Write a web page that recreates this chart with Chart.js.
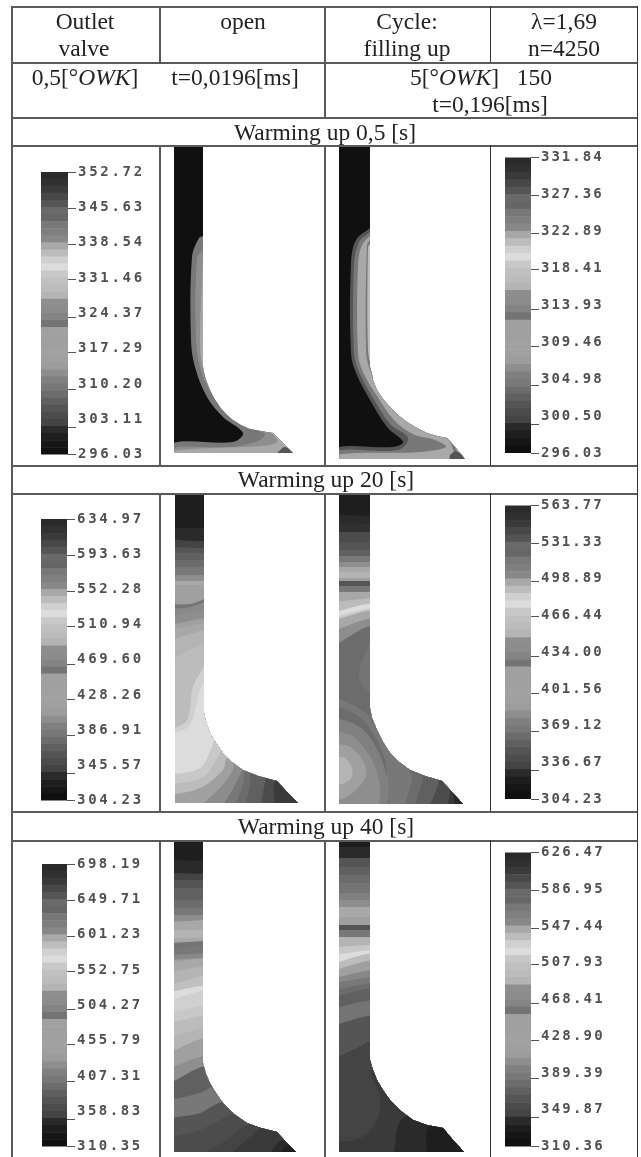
<!DOCTYPE html>
<html>
<head>
<meta charset="utf-8">
<script src="https://cdn.jsdelivr.net/npm/chart.js@4/dist/chart.umd.min.js"></script>
<style>
html, body { margin: 0; padding: 0; background: #fff; }
#page { position: relative; width: 641px; height: 1157px; overflow: hidden; filter: blur(0.5px); }
#page canvas { position: absolute; }
.line { position: absolute; }
.txt { position: absolute; transform: translate(-50%, -50%); white-space: pre; color: #222;
       font: 23.5px "Liberation Serif", serif; }
</style>
</head>
<body>
<div id="page"></div>
<script>
// legend labels, top to bottom
var labels05Left = ['352.72', '345.63', '338.54', '331.46', '324.37', '317.29', '310.20', '303.11', '296.03'];
var labels05Right = ['331.84', '327.36', '322.89', '318.41', '313.93', '309.46', '304.98', '300.50', '296.03'];
var labels20Left = ['634.97', '593.63', '552.28', '510.94', '469.60', '428.26', '386.91', '345.57', '304.23'];
var labels20Right = ['563.77', '531.33', '498.89', '466.44', '434.00', '401.56', '369.12', '336.67', '304.23'];
var labels40Left = ['698.19', '649.71', '601.23', '552.75', '504.27', '455.79', '407.31', '358.83', '310.35'];
var labels40Right = ['626.47', '586.95', '547.44', '507.93', '468.41', '428.90', '389.39', '349.87', '310.36'];

// the legend scale counts colour steps, 40 at the top
var labelSteps = [40, 35, 30, 25, 20, 15, 10, 5, 0];
var markSteps = [40, 34.8, 29.7, 24.8, 19.4, 14.4, 9.2, 3.9, 0];

// grey of every legend step, top to bottom
var stepGreys = [0x2a, 0x30, 0x3a, 0x48, 0x55, 0x6a, 0x66, 0x78, 0x7f, 0x88,
                 0xa8, 0xbc, 0xd0, 0xdc, 0xc8, 0xc0, 0xbc, 0xb4, 0x8e, 0x8c,
                 0x84, 0x74, 0xa0, 0xa0, 0xa0, 0xa2, 0xa0, 0x9c, 0x8e, 0x80,
                 0x78, 0x6c, 0x60, 0x55, 0x4c, 0x44, 0x2a, 0x1e, 0x16, 0x10];

// valve outlines, x,y pairs on the page-sized scales
var outline05Left = [[174, 145], [203, 145], [203, 367], [204, 372], [206, 380], [210, 390], [214, 398], [220, 407], [226, 414], [233, 420], [241, 425], [250, 429], [261, 431], [273, 433], [283, 443], [293, 453], [174, 453]];
var outline05Right = [[339, 145], [370, 145], [370, 367], [372, 374], [373, 380], [377, 390], [383, 399], [390, 407], [398, 415], [407, 422], [417, 428], [427, 433], [437, 436], [447, 438], [456, 448], [465, 459], [339, 459]];
var outline20Left = [[175, 493], [204, 493], [204, 713], [206, 722], [210, 733], [216, 743], [223, 753], [232, 762], [243, 770], [258, 776], [277, 781], [287, 792], [298, 803], [175, 803]];
var outline20Right = [[339, 493], [370, 493], [370, 708], [372, 718], [377, 730], [383, 742], [390, 753], [399, 762], [410, 770], [425, 776], [442, 781], [452, 792], [463, 804], [339, 804]];
var outline40Left = [[174, 840], [203, 840], [203, 1063], [206, 1074], [210, 1083], [216, 1093], [223, 1103], [234, 1114], [247, 1123], [261, 1128], [277, 1132], [286, 1142], [296, 1152], [174, 1152]];
var outline40Right = [[339, 840], [370, 840], [370, 1060], [373, 1070], [377, 1080], [383, 1090], [390, 1100], [401, 1111], [413, 1120], [427, 1125], [443, 1128], [453, 1140], [464, 1152], [339, 1152]];

// contour bands: legend step, then x,y pairs of the edge. The band is what lies
// below the edge, or inside it when the edge is closed. Painted in this order.
var bands05Left = [
    [30, 203,236, 199,238, 192,257, 191,340, 195,367, 207,397, 223,417, 243,433, 233,442, 173,443, 173,460, 300,460, 300,236, 203,236],
    [28, 203,250, 197,258, 196,340, 200,367, 212,395, 228,414, 250,428, 265,434, 258,441, 230,447, 173,448, 173,460, 300,460, 300,250, 203,250],
    [10, 203,260, 200,340, 203,368, 216,393, 232,410, 252,424, 270,432, 277,442, 262,446, 173,451, 173,460, 300,460, 300,260, 203,260],
    [33, 278,452, 285,447, 296,455, 278,455, 278,452]
];
var bands05Right = [
    [33, 370,228, 356,240, 351,263, 351,353, 356,373, 370,400, 387,427, 403,442, 393,447, 335,448, 335,465, 480,465, 480,228, 370,228],
    [30, 370,232, 359,242, 354,265, 354,353, 359,372, 373,398, 390,424, 408,438, 398,450, 335,451, 335,465, 480,465, 480,232, 370,232],
    [10, 370,236, 362,245, 358,265, 358,353, 363,372, 377,396, 394,420, 413,434, 435,440, 446,447, 420,452, 335,455, 335,465, 480,465, 480,236, 370,236],
    [30, 370,240, 367,245, 366,350, 370,370, 382,392, 398,412, 418,426, 440,433, 450,442, 455,452, 480,465, 480,240, 370,240],
    [11, 370,244, 368,247, 368,350, 372,368, 384,390, 400,410, 420,424, 442,431, 453,441, 458,452, 480,465, 480,244, 370,244],
    [33, 450,455, 456,451, 465,459, 450,459, 450,455]
];
var bands20Left = [
    [36, 170,528, 210,528], [35, 170,539, 190,541, 210,541], [33, 170,547, 210,548], [32, 170,553, 210,553],
    [31, 170,560, 210,560], [30, 170,567, 210,567], [28, 170,575, 210,575], [10, 170,581, 210,581],
    [24, 170,585, 210,585], [21, 170,604, 190,604, 210,598], [9, 170,609, 190,607, 210,601], [28, 170,616, 210,610],
    [22, 170,625, 210,618], [10, 170,630, 210,623], [17, 170,640, 210,630], [11, 170,660, 210,643],
    [12, 170,730, 187,720, 193,687, 204,667, 210,660], [13, 170,735, 190,725, 200,690, 210,680],
    [14, 170,775, 200,768, 212,747, 215,740], [11, 170,785, 203,777, 218,757, 222,750],
    [24, 170,795, 200,788, 223,770, 228,758], [19, 195,810, 218,790, 233,770, 235,760],
    [30, 220,810, 235,785, 243,768, 245,760], [31, 233,810, 243,785, 247,770], [32, 245,810, 250,785, 253,772],
    [34, 260,810, 265,782, 266,775], [2, 275,810, 277,780]
];
var bands20Right = [
    [36, 335,515, 375,516], [1, 335,523, 375,524], [34, 335,532, 375,532], [33, 335,542, 375,542], [32, 335,550, 375,550],
    [30, 335,556, 375,556], [28, 335,562, 375,562], [10, 335,567, 375,567], [17, 335,572, 375,572], [24, 335,578, 375,578],
    [33, 335,581, 375,581], [30, 335,586, 375,586], [10, 335,592, 375,592], [11, 335,602, 375,598], [13, 335,612, 375,603],
    [14, 335,617, 375,608], [10, 335,620, 375,610], [28, 335,630, 375,618], [31, 335,645, 375,625],
    [21, 370,640, 359,677, 370,693, 378,693, 378,640, 370,640],
    [30, 335,697, 357,707, 370,717, 373,723], [31, 335,705, 357,715, 371,730, 385,760, 395,810],
    [29, 335,717, 360,727, 376,747, 388,780, 392,810], [28, 335,730, 355,738, 372,760, 380,785, 383,810],
    [24, 335,743, 352,748, 365,765, 365,778, 350,795, 335,798, 335,743],
    [17, 335,757, 345,758, 352,768, 352,776, 345,783, 335,783, 335,757],
    [30, 393,810, 403,780, 402,767], [31, 403,810, 412,780, 410,768], [32, 413,810, 422,783, 423,775],
    [34, 428,810, 438,785, 440,777], [2, 447,810, 450,788, 447,778], [36, 455,810, 453,793, 450,780]
];
var bands40Left = [
    [36, 170,860, 210,861], [35, 170,873, 210,874], [33, 170,880, 210,880], [32, 170,888, 210,888], [31, 170,900, 210,900],
    [30, 170,908, 210,908], [28, 170,915, 210,915], [10, 170,922, 210,920], [17, 170,930, 210,930], [10, 170,938, 210,938],
    [21, 170,943, 210,941], [30, 170,948, 210,946], [9, 170,955, 210,953], [24, 170,960, 210,958], [10, 170,963, 210,958],
    [17, 170,972, 210,966], [15, 170,985, 210,975], [11, 170,990, 210,985], [13, 170,992, 210,985], [12, 170,1000, 210,990],
    [14, 170,1013, 210,1005], [11, 170,1023, 210,1015], [17, 170,1038, 210,1027], [24, 170,1052, 210,1037],
    [28, 170,1068, 210,1055], [32, 170,1083, 210,1065], [30, 170,1100, 200,1093, 218,1085],
    [33, 170,1118, 200,1113, 223,1102], [34, 170,1137, 200,1130, 232,1113, 240,1107], [35, 197,1157, 227,1140, 248,1125],
    [2, 227,1157, 250,1137, 263,1128], [36, 267,1157, 283,1140], [37, 278,1157, 288,1145]
];
var bands40Right = [
    [36, 335,847, 375,847], [33, 335,858, 375,858], [32, 335,867, 375,867], [31, 335,875, 375,875], [21, 335,883, 375,883],
    [29, 335,893, 375,893], [28, 335,900, 375,900], [10, 335,907, 375,907], [24, 335,917, 375,917], [33, 335,925, 375,925],
    [30, 335,930, 375,930], [17, 335,937, 375,937], [14, 335,947, 375,945], [13, 335,955, 375,950], [11, 335,963, 375,953],
    [24, 335,970, 375,960], [9, 335,978, 375,970], [30, 335,983, 375,977], [31, 335,990, 375,983], [32, 335,997, 375,988],
    [21, 335,1008, 375,1000], [33, 335,1025, 375,1015], [35, 335,1058, 357,1048, 375,1040],
    [2, 335,1142, 360,1138, 377,1120, 380,1097, 373,1070], [36, 393,1157, 405,1117], [37, 427,1157, 428,1128, 443,1128]
];

// cell frames and rules of the table
var ruleY = [[11, 638, 6], [11, 638, 62], [11, 638, 117], [11, 638, 145], [11, 638, 465], [11, 638, 493], [11, 638, 811], [11, 638, 840]];
var ruleX = [[11, 6, 1157, 2], [637, 6, 1157, 1], [159, 6, 62, 2], [324, 6, 117, 2], [490, 6, 62, 1],
             [159, 145, 465, 2], [324, 145, 465, 2], [490, 145, 465, 1],
             [159, 493, 811, 2], [324, 493, 811, 2], [490, 493, 811, 1],
             [159, 840, 1157, 2], [324, 840, 1157, 2], [490, 840, 1157, 1]];
var headings = [
    [85, 21, 'Outlet'], [84, 48, 'valve'], [243, 21, 'open'], [407, 21, 'Cycle:'], [407, 48, 'filling up'],
    [564, 21, '\u03bb=1,69'], [564, 48, 'n=4250'],
    [85, 77, '0,5[\u00b0<i>OWK</i>]'], [235, 77, 't=0,0196[ms]'], [481, 77, '5[\u00b0<i>OWK</i>]   150'], [490, 104, 't=0,196[ms]'],
    [325, 132, 'Warming up 0,5 [s]'], [326, 479, 'Warming up 20 [s]'], [326, 826, 'Warming up 40 [s]']
];

var page = document.getElementById('page');

function greyOf(step) {
    var g = stepGreys[step];
    return 'rgb(' + g + ',' + g + ',' + g + ')';
}

function addCanvas(x, y, w, h) {
    var c = document.createElement('canvas');
    c.width = w;
    c.height = h;
    c.style.left = x + 'px';
    c.style.top = y + 'px';
    page.appendChild(c);
    return c;
}

function drawTable() {
    ruleY.forEach(function(r) {
        var d = document.createElement('div');
        d.className = 'line';
        d.style.cssText = 'background:#5a5a5a;left:' + r[0] + 'px;width:' + (r[1] - r[0]) + 'px;top:' + r[2] + 'px;height:2px';
        page.appendChild(d);
    });
    ruleX.forEach(function(r) {
        var d = document.createElement('div');
        d.className = 'line';
        d.style.cssText = 'background:' + (r[3] === 2 ? '#5a5a5a' : '#333') + ';left:' + r[0] + 'px;width:' + r[3] + 'px;top:' + r[1] + 'px;height:' + (r[2] - r[1]) + 'px';
        page.appendChild(d);
    });
    headings.forEach(function(h) {
        var d = document.createElement('div');
        d.className = 'txt';
        d.style.left = h[0] + 'px';
        d.style.top = h[1] + 'px';
        d.innerHTML = h[2];
        page.appendChild(d);
    });
}

// colour legend: one stacked column of steps, labels and marks on two right axes
function legendChart(labels, cell, bar, spacing) {
    var canvas = addCanvas(cell.x, cell.y, cell.w, cell.h);
    var datasets = [];
    for (var i = stepGreys.length - 1; i >= 0; i--) {
        datasets.push({ data: [1], backgroundColor: greyOf(i), stack: 'steps', borderWidth: 0 });
    }
    new Chart(canvas, {
        type: 'bar',
        data: { labels: [''], datasets: datasets },
        options: {
            responsive: false,
            animation: false,
            devicePixelRatio: 1,
            layout: {
                padding: {
                    left: bar.left - cell.x,
                    right: 0,
                    top: bar.top - cell.y,
                    bottom: cell.y + cell.h - bar.bottom
                }
            },
            plugins: { legend: { display: false }, tooltip: { enabled: false } },
            datasets: { bar: { barPercentage: 1, categoryPercentage: 1 } },
            scales: {
                x: { stacked: true, display: false },
                y: {
                    stacked: true,
                    position: 'right',
                    min: 0,
                    max: 40,
                    weight: 1,
                    border: { display: false },
                    grid: { display: false, drawTicks: false },
                    afterBuildTicks: function(scale) {
                        scale.ticks = labelSteps.map(function(v) { return { value: v }; });
                    },
                    afterFit: function(scale) {
                        scale.width = cell.x + cell.w - bar.right - 8;
                    },
                    ticks: {
                        autoSkip: false,
                        padding: 2,
                        color: '#505050',
                        font: { family: 'DejaVu Sans Mono', size: 14, weight: 'bold' },
                        callback: function(value) {
                            return labels[labelSteps.indexOf(value)];
                        }
                    }
                },
                marks: {
                    type: 'linear',
                    position: 'right',
                    min: 0,
                    max: 40,
                    weight: 0,
                    border: { display: false },
                    grid: { drawOnChartArea: false, drawTicks: true, tickLength: 8, color: '#555' },
                    afterBuildTicks: function(scale) {
                        scale.ticks = markSteps.map(function(v) { return { value: v }; });
                    },
                    afterFit: function(scale) {
                        scale.width = 8;
                    },
                    ticks: { display: false, autoSkip: false }
                }
            }
        },
        plugins: [{
            id: 'spacedLabels',
            beforeDraw: function(chart) {
                chart.ctx.letterSpacing = spacing + 'px';
            }
        }]
    });
}

function edgeToPoints(band, cell) {
    var pts = [];
    for (var i = 1; i < band.length; i += 2) {
        pts.push({ x: band[i], y: band[i + 1] });
    }
    var first = pts[0];
    var last = pts[pts.length - 1];
    var closed = first.x === last.x && first.y === last.y;
    if (!closed) {
        var right = cell.x + cell.w;
        var bottom = cell.y + cell.h;
        pts.push({ x: right, y: last.y }, { x: right, y: bottom }, { x: first.x, y: bottom });
    }
    return pts;
}

// valve section: filled outline, then contour bands clipped to it
function valveChart(outline, baseStep, bands, cell) {
    var canvas = addCanvas(cell.x, cell.y, cell.w, cell.h);
    var outlinePts = outline.map(function(p) { return { x: p[0], y: p[1] }; });
    var painted = [{ data: outlinePts, backgroundColor: greyOf(baseStep), tension: 0 }];
    bands.forEach(function(band) {
        painted.push({ data: edgeToPoints(band, cell), backgroundColor: greyOf(band[0]), tension: 0.35 });
    });
    // chart.js paints the last dataset first
    var datasets = painted.reverse().map(function(d) {
        d.fill = 'shape';
        d.borderWidth = 0;
        d.pointRadius = 0;
        return d;
    });
    new Chart(canvas, {
        type: 'line',
        data: { datasets: datasets },
        options: {
            responsive: false,
            animation: false,
            devicePixelRatio: 1,
            layout: { padding: 0 },
            plugins: { legend: { display: false }, tooltip: { enabled: false } },
            scales: {
                x: { type: 'linear', min: cell.x, max: cell.x + cell.w, display: false },
                y: { type: 'linear', min: cell.y, max: cell.y + cell.h, reverse: true, display: false }
            }
        },
        plugins: [{
            id: 'clipToOutline',
            beforeDatasetsDraw: function(chart) {
                var ctx = chart.ctx;
                var xs = chart.scales.x;
                var ys = chart.scales.y;
                ctx.save();
                ctx.beginPath();
                outlinePts.forEach(function(p, i) {
                    if (i === 0) ctx.moveTo(xs.getPixelForValue(p.x), ys.getPixelForValue(p.y));
                    else ctx.lineTo(xs.getPixelForValue(p.x), ys.getPixelForValue(p.y));
                });
                ctx.closePath();
                ctx.clip();
            },
            afterDatasetsDraw: function(chart) {
                chart.ctx.restore();
            }
        }]
    });
}

drawTable();

legendChart(labels05Left, { x: 13, y: 147, w: 146, h: 318 }, { left: 41, right: 68, top: 172, bottom: 455 }, 2.7);
legendChart(labels05Right, { x: 491, y: 147, w: 146, h: 318 }, { left: 505, right: 531, top: 157, bottom: 453 }, 2.0);
legendChart(labels20Left, { x: 13, y: 495, w: 146, h: 316 }, { left: 41, right: 67, top: 519, bottom: 802 }, 2.7);
legendChart(labels20Right, { x: 491, y: 495, w: 146, h: 316 }, { left: 505, right: 531, top: 503, bottom: 799 }, 2.0);
legendChart(labels40Left, { x: 13, y: 842, w: 146, h: 315 }, { left: 42, right: 67, top: 864, bottom: 1148 }, 2.5);
legendChart(labels40Right, { x: 491, y: 842, w: 146, h: 315 }, { left: 505, right: 531, top: 850, bottom: 1148 }, 2.2);

var col2 = { x: 161, w: 163 };
var col3 = { x: 326, w: 164 };
valveChart(outline05Left, 39, bands05Left, { x: col2.x, y: 147, w: col2.w, h: 318 });
valveChart(outline05Right, 39, bands05Right, { x: col3.x, y: 147, w: col3.w, h: 318 });
valveChart(outline20Left, 37, bands20Left, { x: col2.x, y: 495, w: col2.w, h: 316 });
valveChart(outline20Right, 37, bands20Right, { x: col3.x, y: 495, w: col3.w, h: 316 });
valveChart(outline40Left, 37, bands40Left, { x: col2.x, y: 842, w: col2.w, h: 315 });
valveChart(outline40Right, 37, bands40Right, { x: col3.x, y: 842, w: col3.w, h: 315 });
</script>
</body>
</html>
